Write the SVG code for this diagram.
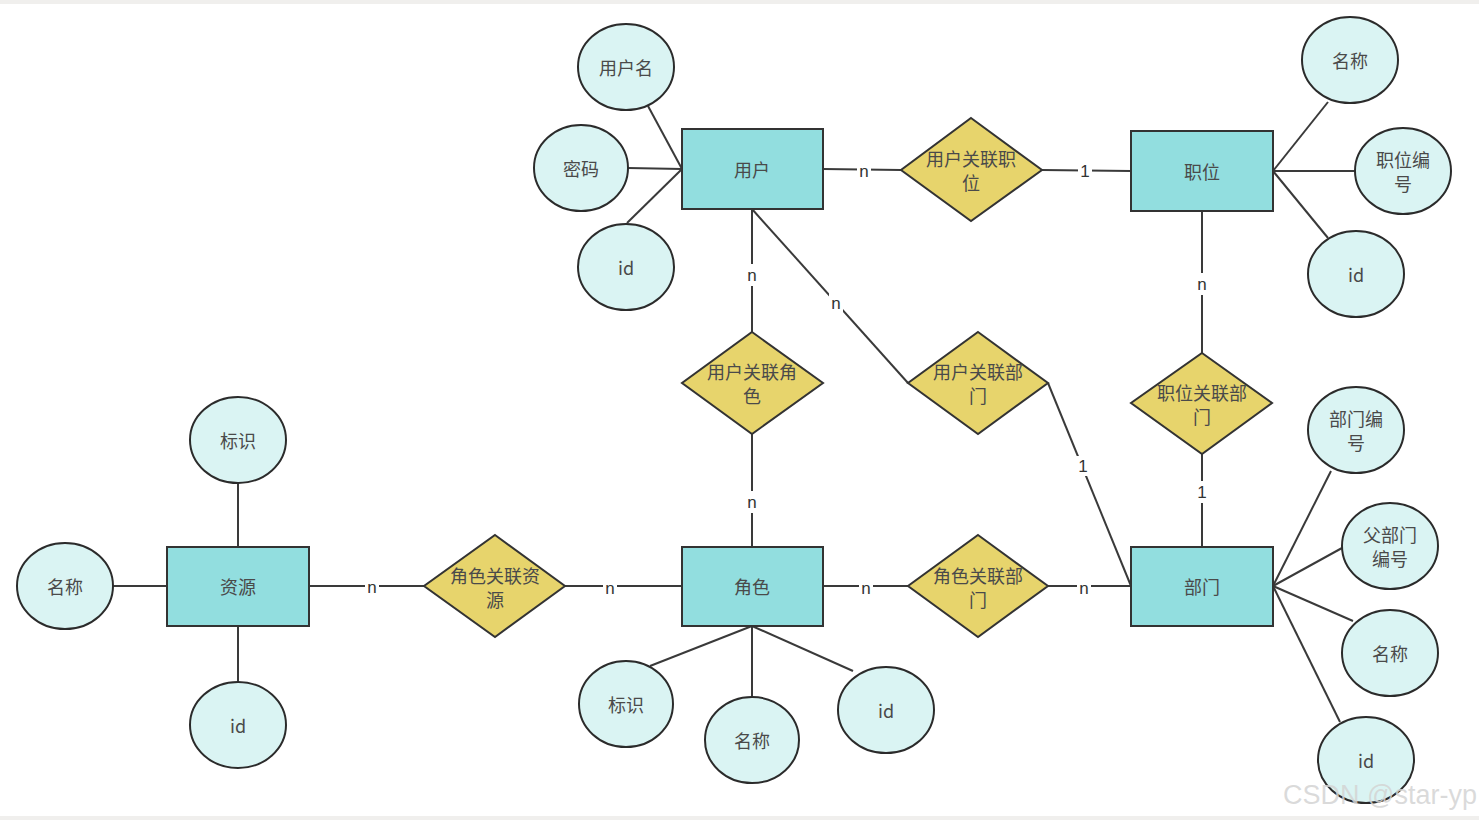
<svg xmlns="http://www.w3.org/2000/svg" width="1479" height="820" viewBox="0 0 1479 820">
<style>
.ent{fill:#92DEDF;stroke:#333;stroke-width:2}
.att{fill:#DAF4F3;stroke:#2b2b2b;stroke-width:2}
.rel{fill:#E7D46C;stroke:#333;stroke-width:2}
.t{font-family:"Noto Sans CJK SC","Liberation Sans",sans-serif;font-size:18px;fill:#4a4a4a;text-anchor:middle;dominant-baseline:central}
.c line{stroke:#3a3a3a;stroke-width:2}
.lb{font-family:"Liberation Sans",sans-serif;font-size:17px;fill:#333;text-anchor:middle;dominant-baseline:central}
.lbg{fill:#fff}
</style>
<rect x="0" y="0" width="1479" height="820" fill="#fff"/>
<rect x="0" y="0" width="1479" height="4" fill="#f0efed"/>
<rect x="0" y="816" width="1479" height="4" fill="#f0efed"/>
<g class="c" id="connectors">
<line x1="648" y1="106" x2="682" y2="169"/>
<line x1="628" y1="168" x2="682" y2="169"/>
<line x1="627" y1="223" x2="682" y2="169"/>
<line x1="823" y1="169" x2="901" y2="170"/>
<line x1="1042" y1="170" x2="1131" y2="171"/>
<line x1="1273" y1="171" x2="1328" y2="102"/>
<line x1="1273" y1="171" x2="1355" y2="171"/>
<line x1="1273" y1="171" x2="1328" y2="238"/>
<line x1="1202" y1="211" x2="1202" y2="353"/>
<line x1="1202" y1="454" x2="1202" y2="547"/>
<line x1="752" y1="209" x2="752" y2="332"/>
<line x1="752" y1="434" x2="752" y2="547"/>
<line x1="752" y1="209" x2="908" y2="383"/>
<line x1="1048" y1="383" x2="1131" y2="586"/>
<line x1="309" y1="586" x2="424" y2="586"/>
<line x1="565" y1="586" x2="682" y2="586"/>
<line x1="823" y1="586" x2="908" y2="586"/>
<line x1="1048" y1="586" x2="1131" y2="586"/>
<line x1="1273" y1="586" x2="1331" y2="471"/>
<line x1="1273" y1="586" x2="1342" y2="548"/>
<line x1="1273" y1="586" x2="1353" y2="621"/>
<line x1="1273" y1="586" x2="1340" y2="722"/>
<line x1="238" y1="483" x2="238" y2="547"/>
<line x1="113" y1="586" x2="167" y2="586"/>
<line x1="238" y1="626" x2="238" y2="682"/>
<line x1="752" y1="626" x2="650" y2="666"/>
<line x1="752" y1="626" x2="752" y2="697"/>
<line x1="752" y1="626" x2="853" y2="671"/>
<g id="labels">
<rect class="lbg" x="857" y="160" width="14" height="20"/><text class="lb" x="864" y="171">n</text>
<rect class="lbg" x="1078" y="160" width="14" height="22"/><text class="lb" x="1085" y="171">1</text>
<rect class="lbg" x="1195" y="273" width="14" height="22"/><text class="lb" x="1202" y="284">n</text>
<rect class="lbg" x="1195" y="481" width="14" height="22"/><text class="lb" x="1202" y="492">1</text>
<rect class="lbg" x="745" y="264" width="14" height="22"/><text class="lb" x="752" y="275">n</text>
<rect class="lbg" x="745" y="491" width="14" height="22"/><text class="lb" x="752" y="502">n</text>
<rect class="lbg" x="829" y="293" width="14" height="20"/><text class="lb" x="836" y="303">n</text>
<rect class="lbg" x="1076" y="456" width="14" height="20"/><text class="lb" x="1083" y="466">1</text>
<rect class="lbg" x="365" y="576" width="14" height="20"/><text class="lb" x="372" y="587">n</text>
<rect class="lbg" x="603" y="577" width="14" height="20"/><text class="lb" x="610" y="588">n</text>
<rect class="lbg" x="859" y="577" width="14" height="20"/><text class="lb" x="866" y="588">n</text>
<rect class="lbg" x="1077" y="577" width="14" height="20"/><text class="lb" x="1084" y="588">n</text>
</g>
</g>
<g id="user"><rect class="ent" x="682" y="129" width="141" height="80"/><text class="t" x="752" y="169">用户</text></g>
<g id="position"><rect class="ent" x="1131" y="131" width="142" height="80"/><text class="t" x="1202" y="171">职位</text></g>
<g id="resource"><rect class="ent" x="167" y="547" width="142" height="79"/><text class="t" x="238" y="586">资源</text></g>
<g id="role"><rect class="ent" x="682" y="547" width="141" height="79"/><text class="t" x="752" y="586">角色</text></g>
<g id="dept"><rect class="ent" x="1131" y="547" width="142" height="79"/><text class="t" x="1202" y="586">部门</text></g>
<g id="rel-user-pos"><polygon class="rel" points="971,118 1042,170 971,221 901,170"/><text class="t" x="971" y="158">用户关联职</text><text class="t" x="971" y="182">位</text></g>
<g id="rel-user-role"><polygon class="rel" points="752,332 823,383 752,434 682,383"/><text class="t" x="752" y="371">用户关联角</text><text class="t" x="752" y="395">色</text></g>
<g id="rel-user-dept"><polygon class="rel" points="978,332 1048,383 978,434 908,383"/><text class="t" x="978" y="371">用户关联部</text><text class="t" x="978" y="395">门</text></g>
<g id="rel-pos-dept"><polygon class="rel" points="1202,353 1272,403 1202,454 1131,403"/><text class="t" x="1202" y="392">职位关联部</text><text class="t" x="1202" y="416">门</text></g>
<g id="rel-role-res"><polygon class="rel" points="495,535 565,586 495,637 424,586"/><text class="t" x="495" y="575">角色关联资</text><text class="t" x="495" y="599">源</text></g>
<g id="rel-role-dept"><polygon class="rel" points="978,535 1048,586 978,637 908,586"/><text class="t" x="978" y="575">角色关联部</text><text class="t" x="978" y="599">门</text></g>
<g id="a-username"><ellipse class="att" cx="626" cy="67" rx="48" ry="43"/><text class="t" x="626" y="67">用户名</text></g>
<g id="a-password"><ellipse class="att" cx="581" cy="168" rx="47" ry="43"/><text class="t" x="581" y="168">密码</text></g>
<g id="a-user-id"><ellipse class="att" cx="626" cy="267" rx="48" ry="43"/><text class="t" x="626" y="267">id</text></g>
<g id="a-pos-name"><ellipse class="att" cx="1350" cy="60" rx="48" ry="43"/><text class="t" x="1350" y="60">名称</text></g>
<g id="a-pos-code"><ellipse class="att" cx="1403" cy="171" rx="48" ry="43"/><text class="t" x="1403" y="159">职位编</text><text class="t" x="1403" y="183">号</text></g>
<g id="a-pos-id"><ellipse class="att" cx="1356" cy="274" rx="48" ry="43"/><text class="t" x="1356" y="274">id</text></g>
<g id="a-dept-code"><ellipse class="att" cx="1356" cy="430" rx="48" ry="43"/><text class="t" x="1356" y="418">部门编</text><text class="t" x="1356" y="442">号</text></g>
<g id="a-dept-parent"><ellipse class="att" cx="1390" cy="546" rx="48" ry="43"/><text class="t" x="1390" y="534">父部门</text><text class="t" x="1390" y="558">编号</text></g>
<g id="a-dept-name"><ellipse class="att" cx="1390" cy="653" rx="48" ry="43"/><text class="t" x="1390" y="653">名称</text></g>
<g id="a-dept-id"><ellipse class="att" cx="1366" cy="760" rx="48" ry="43"/><text class="t" x="1366" y="760">id</text></g>
<g id="a-res-mark"><ellipse class="att" cx="238" cy="440" rx="48" ry="43"/><text class="t" x="238" y="440">标识</text></g>
<g id="a-res-name"><ellipse class="att" cx="65" cy="586" rx="48" ry="43"/><text class="t" x="65" y="586">名称</text></g>
<g id="a-res-id"><ellipse class="att" cx="238" cy="725" rx="48" ry="43"/><text class="t" x="238" y="725">id</text></g>
<g id="a-role-mark"><ellipse class="att" cx="626" cy="704" rx="47" ry="43"/><text class="t" x="626" y="704">标识</text></g>
<g id="a-role-name"><ellipse class="att" cx="752" cy="740" rx="47" ry="43"/><text class="t" x="752" y="740">名称</text></g>
<g id="a-role-id"><ellipse class="att" cx="886" cy="710" rx="48" ry="43"/><text class="t" x="886" y="710">id</text></g>
<text x="1380" y="795" font-family="Liberation Sans,sans-serif" font-size="27" fill="#d4d4d4" fill-opacity="0.85" text-anchor="middle" dominant-baseline="central">CSDN @star-yp</text>
</svg>
